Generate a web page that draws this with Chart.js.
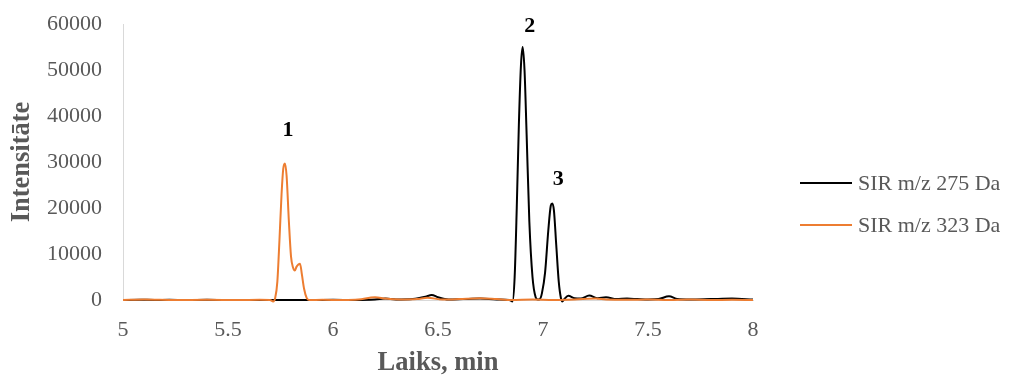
<!DOCTYPE html>
<html>
<head>
<meta charset="utf-8">
<script src="https://cdn.jsdelivr.net/npm/chart.js@4/dist/chart.umd.min.js"></script>
<style>
  html, body { margin: 0; padding: 0; background: #ffffff; }
  #wrap { width: 1015px; height: 376px; position: relative; }
</style>
</head>
<body>
<div id="wrap"><canvas id="chrom"></canvas></div>
<script>
// SIR chromatogram, m/z 275 Da trace
const times275 = [5.00,5.08,5.15,5.22,5.30,5.40,5.50,5.60,5.70,5.80,
  5.90,6.00,6.10,6.20,6.25,6.30,6.38,6.44,6.47,6.50,
  6.55,6.62,6.70,6.78,6.84,6.855,6.865,6.875,6.885,6.895,
  6.903,6.912,6.922,6.935,6.95,6.965,6.975,6.985,6.995,7.01,
  7.025,7.037,7.044,7.052,7.063,7.075,7.085,7.092,7.10,7.12,
  7.15,7.18,7.22,7.26,7.30,7.35,7.40,7.45,7.50,7.55,
  7.60,7.64,7.70,7.80,7.90,8.00];
const intensity275 = [0,60,0,40,0,30,0,20,0,0,
  0,50,0,100,300,100,200,700,1100,600,
  100,200,300,100,0,-300,5000,20000,38000,51000,
  55000,50000,36000,17000,5000,600,100,200,1500,6000,
  15000,20500,21000,19500,12000,4000,500,-300,100,900,
  400,300,1000,400,600,200,300,200,100,200,
  800,200,100,200,300,100];

// SIR chromatogram, m/z 323 Da trace
const times323 = [5.00,5.10,5.25,5.40,5.55,5.65,5.70,5.715,5.725,5.735,
  5.745,5.755,5.763,5.771,5.779,5.79,5.80,5.81,5.818,5.826,
  5.835,5.843,5.852,5.862,5.875,5.886,5.95,6.05,6.12,6.20,
  6.25,6.32,6.40,6.45,6.52,6.60,6.70,6.78,6.85,6.95,
  7.05,7.15,7.25,7.30,7.40,7.50,7.60,7.70,7.80,7.90,
  8.00];
const intensity323 = [0,100,0,50,0,50,0,-300,500,4000,
  13000,23000,28500,29700,27000,17000,9500,7000,6400,7200,
  7700,7900,5500,2500,400,0,50,0,100,600,
  300,100,200,500,100,200,400,200,0,100,
  0,100,300,100,50,100,0,100,0,50,
  0];

const seriesNames = ['SIR m/z 275 Da', 'SIR m/z 323 Da'];
const seriesColors = ['#000000', '#ED7D31'];

// numbered peaks: label, series index, retention time of the apex
const peakLabels = ['1', '2', '3'];
const peakSeries = [1, 0, 0];
const peakTimes = [5.771, 6.903, 7.044];

const xTitle = 'Laiks, min';
const yTitle = 'Intensitāte';

const FONT = '"Liberation Serif", "Times New Roman", serif';
const GREY = '#595959';

function toPoints(xs, ys) {
  return xs.map((x, i) => ({ x: x, y: ys[i] }));
}

// where each peak number sits relative to its apex (px)
const peakLabelShift = [3, 7, 6];
const peakLabelLift = [33, 21, 24];

const peakLabelPlugin = {
  id: 'peakLabels',
  afterDatasetsDraw(chart) {
    const ctx = chart.ctx;
    const xs = chart.scales.x, ys = chart.scales.y;
    ctx.save();
    ctx.font = 'bold 22px ' + FONT;
    ctx.fillStyle = '#000000';
    ctx.textAlign = 'center';
    ctx.textBaseline = 'middle';
    peakLabels.forEach((lab, i) => {
      const pts = chart.data.datasets[peakSeries[i]].data;
      const p = pts.find(q => Math.abs(q.x - peakTimes[i]) < 1e-9);
      ctx.fillText(lab, xs.getPixelForValue(p.x) + peakLabelShift[i],
                   ys.getPixelForValue(p.y) - peakLabelLift[i]);
    });
    ctx.restore();
  }
};

const sideLegendPlugin = {
  id: 'sideLegend',
  afterDraw(chart) {
    const ctx = chart.ctx;
    const x0 = chart.chartArea.right + 47;
    const rowY = [183, 225];
    ctx.save();
    ctx.font = '22px ' + FONT;
    ctx.textAlign = 'left';
    ctx.textBaseline = 'middle';
    chart.data.datasets.forEach((ds, i) => {
      const y = rowY[i];
      ctx.strokeStyle = ds.borderColor;
      ctx.lineWidth = 2;
      ctx.beginPath();
      ctx.moveTo(x0, y);
      ctx.lineTo(x0 + 52, y);
      ctx.stroke();
      ctx.fillStyle = GREY;
      ctx.fillText(ds.label, x0 + 58, y + 1);
    });
    ctx.restore();
  }
};

new Chart(document.getElementById('chrom'), {
  type: 'line',
  data: {
    datasets: [
      {
        label: seriesNames[0],
        data: toPoints(times275, intensity275),
        borderColor: seriesColors[0],
        borderWidth: 2,
        pointRadius: 0,
        cubicInterpolationMode: 'monotone',
        fill: false,
        order: 1,
        clip: 4
      },
      {
        label: seriesNames[1],
        data: toPoints(times323, intensity323),
        borderColor: seriesColors[1],
        borderWidth: 2,
        pointRadius: 0,
        cubicInterpolationMode: 'monotone',
        fill: false,
        order: 0,
        clip: 4
      }
    ]
  },
  options: {
    responsive: true,
    maintainAspectRatio: false,
    animation: false,
    parsing: false,
    layout: { padding: { left: 0, right: 262, top: 24, bottom: 0 } },
    plugins: {
      legend: { display: false },
      tooltip: { enabled: false }
    },
    scales: {
      x: {
        type: 'linear',
        min: 5,
        max: 8,
        grid: { display: false, drawTicks: false },
        border: { display: true, color: '#d9d9d9', width: 1 },
        ticks: {
          stepSize: 0.5,
          color: GREY,
          padding: 17,
          font: { family: FONT, size: 22 },
          callback: (v) => String(v)
        },
        title: {
          display: true,
          text: xTitle,
          color: GREY,
          font: { family: FONT, size: 26.5, weight: 'bold', lineHeight: 1 },
          padding: { top: 0, bottom: 0 }
        },
        afterFit(scale) { scale.height = 76; }
      },
      y: {
        type: 'linear',
        min: 0,
        max: 60000,
        // tick marks are hidden; their length only sets the gap to the labels
        grid: { display: false, drawTicks: true, tickLength: 21 },
        border: { display: true, color: '#d9d9d9', width: 1 },
        ticks: {
          stepSize: 10000,
          color: GREY,
          padding: 0,
          font: { family: FONT, size: 22 },
          callback: (v) => String(v)
        },
        title: {
          display: true,
          text: yTitle,
          color: GREY,
          font: { family: FONT, size: 26.5, weight: 'bold', lineHeight: 1 },
          padding: { top: 9, bottom: 0 }
        },
        afterFit(scale) { scale.width = 123; }
      }
    }
  },
  plugins: [peakLabelPlugin, sideLegendPlugin]
});
</script>
</body>
</html>
